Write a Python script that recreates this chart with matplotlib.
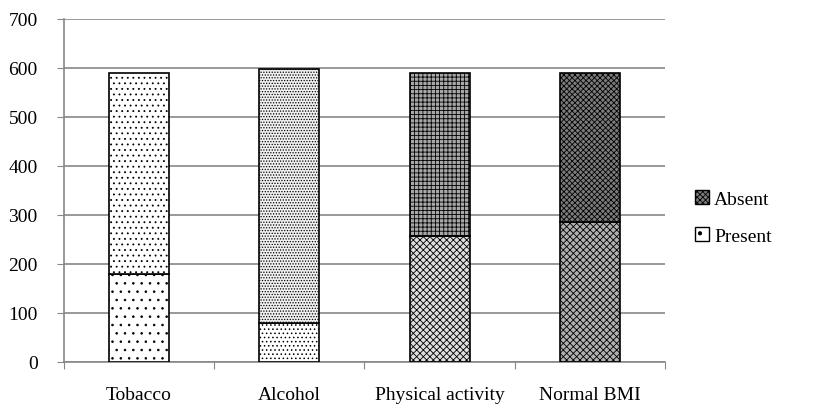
import matplotlib
matplotlib.use("Agg")
import matplotlib.pyplot as plt
from matplotlib.patches import Patch
import numpy as np

plt.rcParams['font.family'] = ['Liberation Serif', 'DejaVu Serif']
plt.rcParams['hatch.linewidth'] = 0.6

categories = ["Tobacco", "Alcohol", "Physical activity", "Normal BMI"]
present = [180, 80, 256, 285]
absent = [410, 518, 334, 305]
yticks = [0, 100, 200, 300, 400, 500, 600, 700]

present_hatch = ['..', '....', 'xxxxx', 'xxxxx']
absent_hatch = ['...', '......', '++++', 'xxxxxx']
present_face = ['white', 'white', '#dedede', '#b0b0b0']
absent_face = ['white', '#f0f0f0', '#a8a8a8', '#7c7c7c']

fig = plt.figure(figsize=(8.2, 4.06), dpi=100)
ax = fig.add_axes([0.078, 0.106, 0.733, 0.845])

x = np.arange(len(categories))
w = 0.40
for i in range(len(categories)):
    ax.bar(x[i], present[i], width=w, color=present_face[i], edgecolor='black',
           hatch=present_hatch[i], linewidth=1.2, zorder=3)
    ax.bar(x[i], absent[i], bottom=present[i], width=w, color=absent_face[i],
           edgecolor='black', hatch=absent_hatch[i], linewidth=1.2, zorder=3)

ax.set_xlim(-0.5, len(categories) - 0.5)
ax.set_ylim(0, 700)
ax.set_yticks(yticks)
ax.set_yticklabels([str(t) for t in yticks], fontsize=14)
ax.yaxis.grid(True, color='#878787', linewidth=1.2, zorder=0)
ax.set_axisbelow(True)

ax.set_xticks(np.arange(-0.5, len(categories), 1.0))
ax.set_xticklabels([])
ax.set_xticks(x, minor=True)
ax.set_xticklabels(categories, minor=True, fontsize=14)
ax.tick_params(axis='x', which='minor', length=0, pad=17.5)
ax.tick_params(axis='x', which='major', length=5, color='#878787', direction='out')
ax.tick_params(axis='y', length=5, color='#878787', direction='out', pad=14)

for s in ['top', 'right']:
    ax.spines[s].set_visible(False)
ax.spines['left'].set_color('#878787')
ax.spines['bottom'].set_color('#878787')
ax.spines['left'].set_linewidth(1.2)
ax.spines['bottom'].set_linewidth(1.2)

handles = [Patch(facecolor='#7c7c7c', edgecolor='black', hatch='xxxxxx', label='Absent'),
           Patch(facecolor='white', edgecolor='black', hatch='.', label='Present')]
fig.legend(handles=handles, loc='center left', bbox_to_anchor=(0.826, 0.462),
           frameon=False, fontsize=14, handlelength=0.75, handleheight=0.75,
           handletextpad=0.25, labelspacing=1.0)

fig.savefig('out.png', dpi=100)
